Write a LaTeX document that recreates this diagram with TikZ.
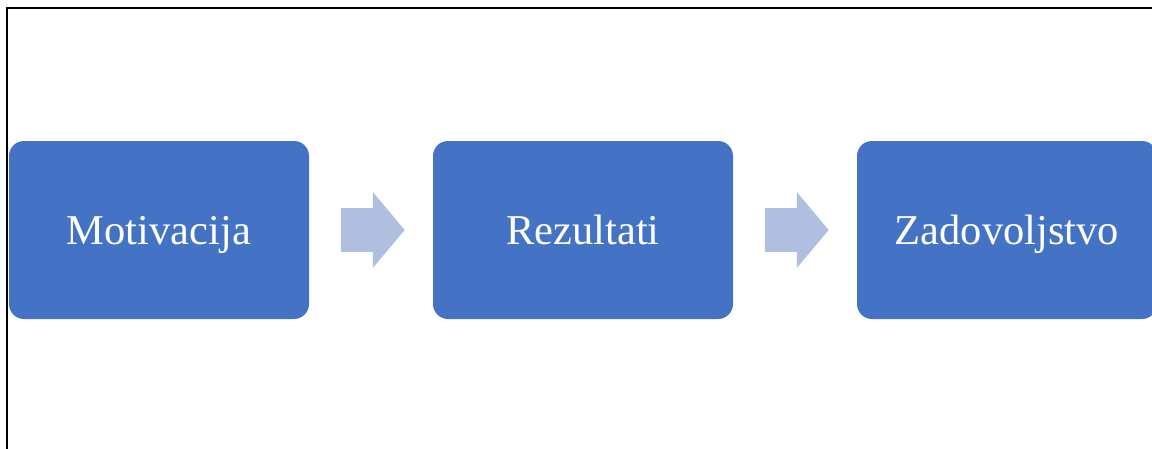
\documentclass[tikz,border=0pt]{standalone}
\usepackage{fontspec}
\setmainfont{Liberation Serif}
\usetikzlibrary{arrows.meta}

\definecolor{boxblue}{HTML}{4472C4}
\definecolor{arrowblue}{HTML}{B0BEE0}

\begin{document}
\begin{tikzpicture}[x=1pt, y=-1pt,
		blockarrow/.style={draw=arrowblue, line width=44pt,
			-{Triangle[length=32pt, width=74pt, fill=arrowblue]}}]
	\useasboundingbox (0,0) rectangle (1152,448);
	\draw[line width=2pt] (6.5,460) -- (6.5,7.5) -- (1160,7.5);
	\begin{scope}[every node/.style = {rectangle, rounded corners=15pt,
			fill=boxblue, text=white, inner sep=0pt,
			minimum width=300pt, minimum height=178pt,
			text height=28pt, text depth=0pt,
			font=\fontsize{42.5}{50}\selectfont}]
		\node (M) at (159,230) {Motivacija};
		\node (R) at (583,230) {Rezultati};
		\node (Z) at (1007,230) {Zadovoljstvo};
	\end{scope}
	\path[blockarrow] ([xshift=32pt]M.east) -- ([xshift=-28pt]R.west);
	\path[blockarrow] ([xshift=32pt]R.east) -- ([xshift=-28pt]Z.west);
\end{tikzpicture}
\end{document}
